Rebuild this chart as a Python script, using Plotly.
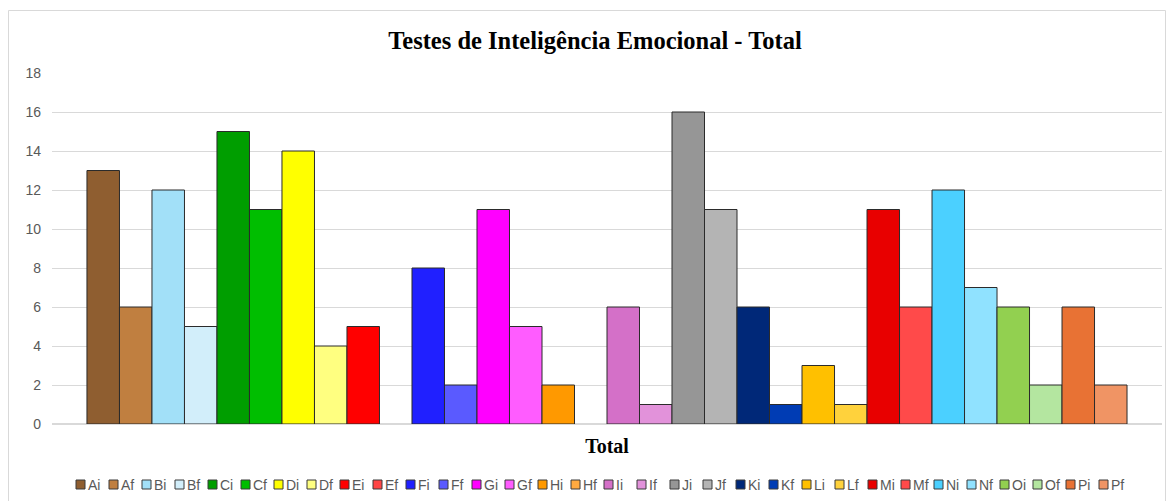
import plotly.graph_objects as go

# Data
CATEGORY = ["Total"]
SERIES = ["Ai", "Af", "Bi", "Bf", "Ci", "Cf", "Di", "Df", "Ei", "Ef",
          "Fi", "Ff", "Gi", "Gf", "Hi", "Hf", "Ii", "If", "Ji", "Jf",
          "Ki", "Kf", "Li", "Lf", "Mi", "Mf", "Ni", "Nf", "Oi", "Of",
          "Pi", "Pf"]
VALUES = [13, 6, 12, 5, 15, 11, 14, 4, 5, 0,
          8, 2, 11, 5, 2, 0, 6, 1, 16, 11,
          6, 1, 3, 1, 11, 6, 12, 7, 6, 2,
          6, 2]
COLORS = ["#8F5E30", "#C07F40", "#A2E0F8", "#D2EEFA", "#009E00", "#00BE00",
          "#FFFF00", "#FFFF80", "#FF0000", "#FF4545", "#2020FF", "#5A5AFF",
          "#FF00FF", "#FF5CFF", "#FF9900", "#FFAA40", "#D470C8", "#E292DA",
          "#969696", "#B4B4B4", "#002878", "#003CB4", "#FFC000", "#FFD23C",
          "#E80000", "#FF4A4A", "#4BD0FF", "#90E2FF", "#92D050", "#B4E6A0",
          "#E87234", "#F09464"]
Y_TICKS = [0, 2, 4, 6, 8, 10, 12, 14, 16, 18]

fig = go.Figure()
for name, val, col in zip(SERIES, VALUES, COLORS):
    # empty bars keep their slot but show no outline
    fig.add_trace(go.Bar(
        x=CATEGORY, y=[val], name=name,
        marker=dict(color=col, line=dict(color="#2b2b2b", width=1 if val else 0)),
    ))

# plot area in pixels: x 52..1162, y 73..424
PW, PH = 1110, 351

def px_x(p):
    return (p - 52) / PW

def px_y(p):
    return (424 - p) / PH

# outer chart border
fig.add_shape(type="rect", xref="paper", yref="paper",
              x0=px_x(8.5), x1=px_x(1165.5), y0=px_y(520), y1=px_y(10.5),
              line=dict(color="#D9D9D9", width=1), fillcolor="rgba(0,0,0,0)",
              layer="below")

# custom one-row legend (plotly's own would wrap with 32 entries)
start, pitch = 76, 33
for i, (name, col) in enumerate(zip(SERIES, COLORS)):
    x0 = start + i * pitch
    fig.add_shape(type="rect", xref="paper", yref="paper",
                  x0=px_x(x0), x1=px_x(x0 + 9), y0=px_y(489), y1=px_y(480),
                  fillcolor=col, line=dict(color="#3a3a3a", width=1))
    fig.add_annotation(xref="paper", yref="paper", x=px_x(x0 + 10), y=px_y(484.5),
                       text=name, showarrow=False, xanchor="left", yanchor="middle",
                       font=dict(family="Liberation Sans, Arial", size=14, color="#595959"))

fig.update_layout(
    width=1170, height=501,
    margin=dict(l=52, r=8, t=73, b=77),
    paper_bgcolor="white", plot_bgcolor="white",
    barmode="group", bargap=0.063, bargroupgap=0,
    showlegend=False,
    title=dict(text="<b>Testes de Inteligência Emocional - Total</b>",
               x=595 / 1170, xanchor="center", y=1 - 40 / 501, yanchor="middle",
               font=dict(family="Liberation Serif, Times New Roman", size=24.5, color="black")),
)
fig.update_yaxes(range=[0, 18], tickvals=Y_TICKS, showgrid=True, gridcolor="#D9D9D9",
                 gridwidth=1, zeroline=True, zerolinecolor="#D9D9D9", showline=False,
                 ticks="", ticklabelstandoff=10,
                 tickfont=dict(family="Liberation Sans, Arial", size=14, color="#595959"))
fig.update_xaxes(showline=False, ticks="", ticklabelstandoff=8,
                 tickvals=CATEGORY, ticktext=["<b>Total</b>"],
                 tickfont=dict(family="Liberation Serif, Times New Roman", size=20, color="black"))

fig.write_html("out.html", config={"displayModeBar": False},
               post_script="document.body.style.margin='0';")
